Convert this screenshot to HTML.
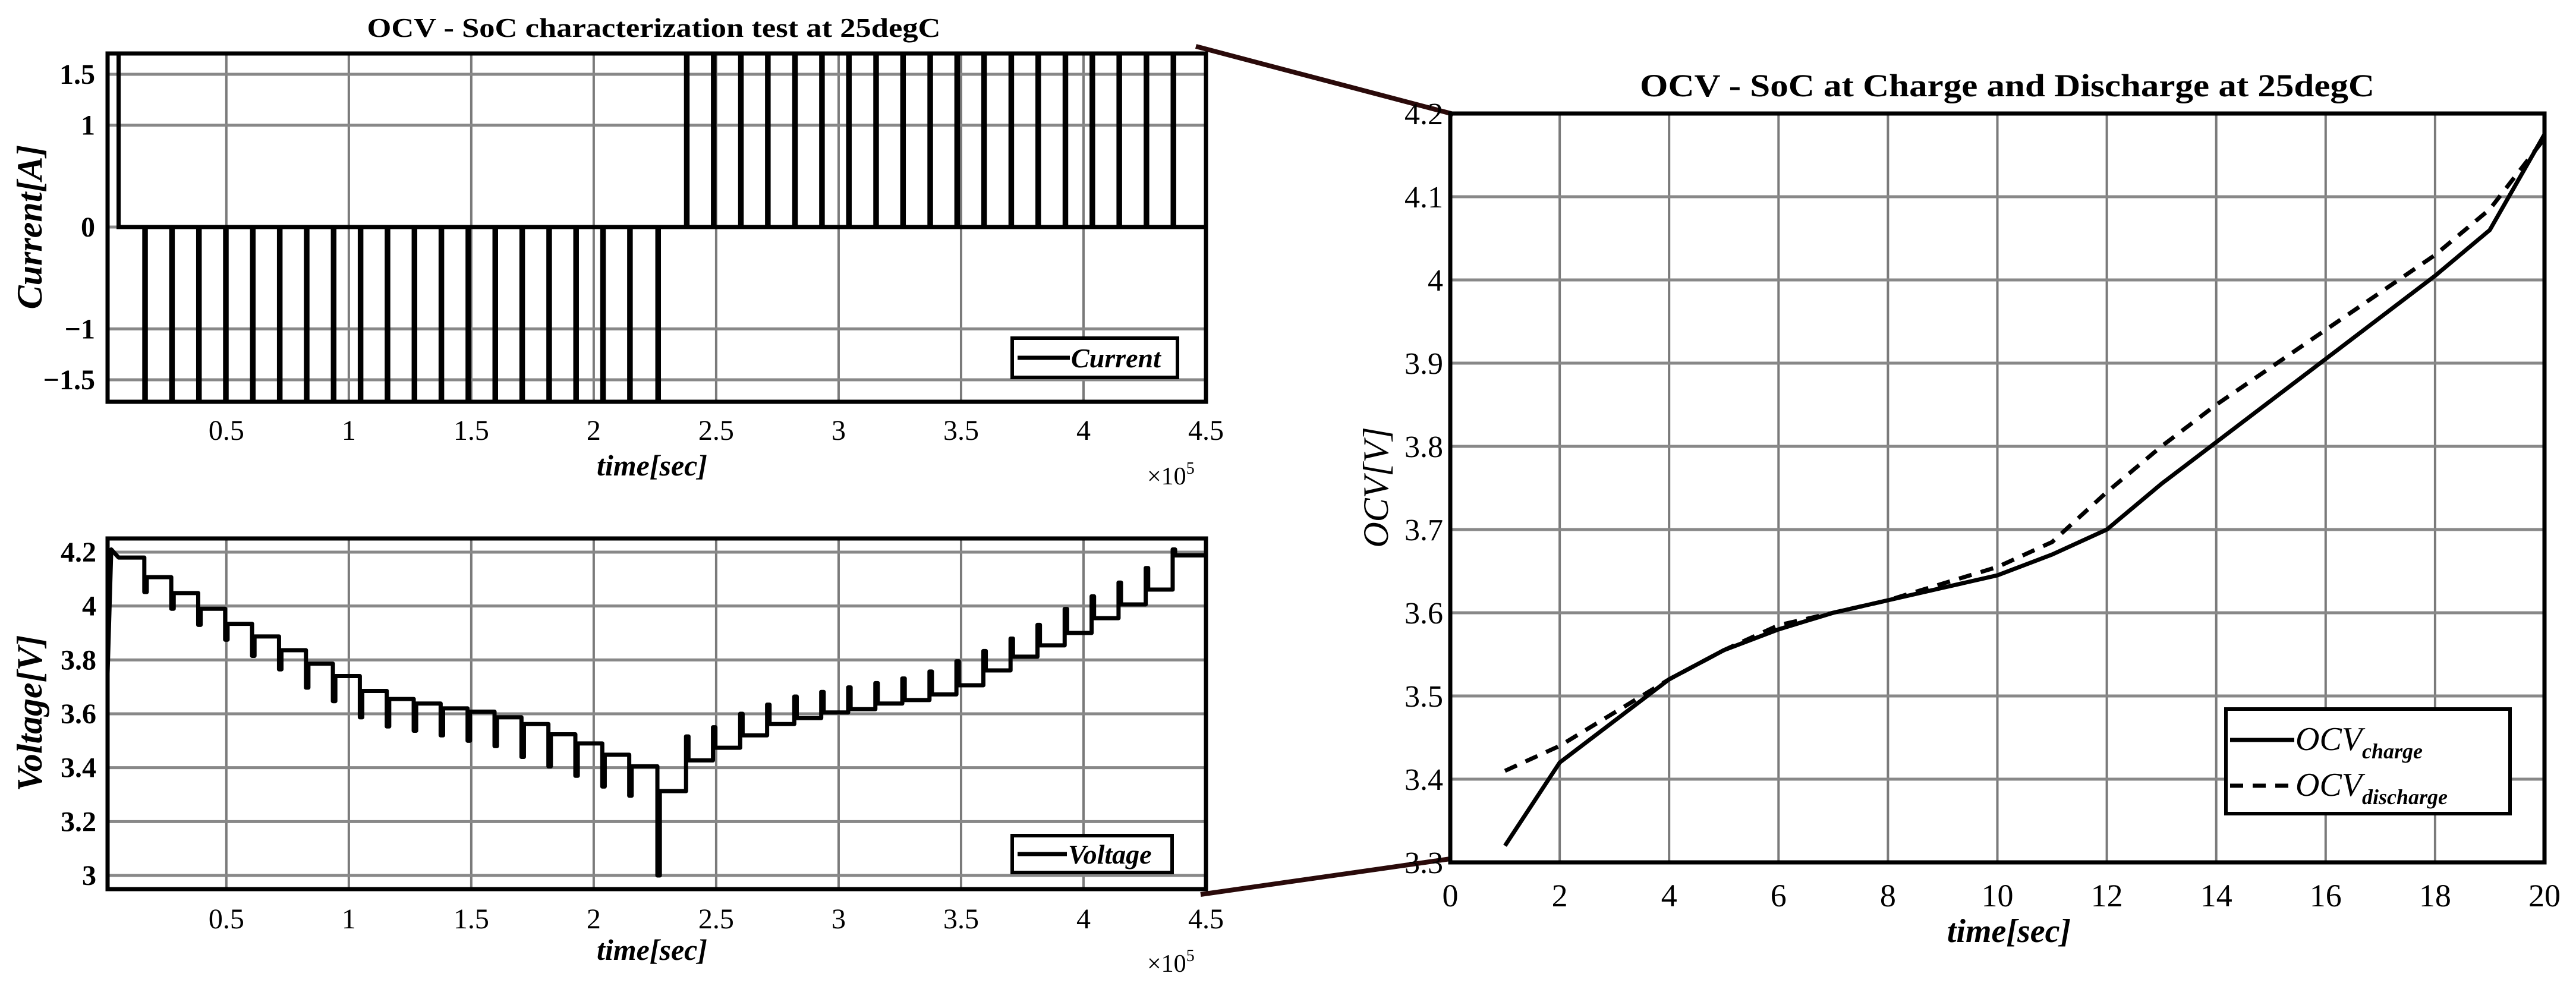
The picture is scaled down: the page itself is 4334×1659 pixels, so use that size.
<!DOCTYPE html>
<html><head><meta charset="utf-8"><style>
html,body{margin:0;padding:0;background:#fff;}
svg{display:block;font-family:"Liberation Serif",serif;}
</style></head><body>
<svg id="s" width="4334" height="1659" viewBox="0 0 4334 1659" xmlns="http://www.w3.org/2000/svg">
<text x="1100" y="62" font-size="46" font-weight="bold" text-anchor="middle" textLength="965" lengthAdjust="spacingAndGlyphs">OCV - SoC characterization test at 25degC</text>
<text x="3377" y="162" font-size="54" font-weight="bold" text-anchor="middle" textLength="1236" lengthAdjust="spacingAndGlyphs">OCV - SoC at Charge and Discharge at 25degC</text>
<line x1="2012" y1="78" x2="2445" y2="192" stroke="#2a0a0a" stroke-width="8"/>
<line x1="2020" y1="1505" x2="2440" y2="1445" stroke="#2a0a0a" stroke-width="8"/>
<g id="g1"></g>
<g id="g2"></g>
<g id="g3"></g>
</svg>
<script>
// ---- data ----
const timeTicks = [0.5,1,1.5,2,2.5,3,3.5,4,4.5];
const timeTickLabels = ["0.5","1","1.5","2","2.5","3","3.5","4","4.5"];
const currentTicks = [-1.5,-1,0,1,1.5];
const currentTickLabels = ["\u22121.5","\u22121","0","1","1.5"];
const dischargePulseTimes = [0.165,0.275,0.385,0.495,0.605,0.715,0.825,0.935,1.045,1.155,1.265,1.375,1.485,1.595,1.705,1.815,1.925,2.035,2.145,2.26];
const chargePulseTimes = [2.377,2.487,2.598,2.708,2.819,2.929,3.039,3.150,3.260,3.371,3.481,3.591,3.702,3.812,3.923,4.033,4.143,4.254,4.364];
const dischargeCurrent = -1.75;
const chargeCurrent = 1.75;
const voltageTicks = [3,3.2,3.4,3.6,3.8,4,4.2];
const voltageTickLabels = ["3","3.2","3.4","3.6","3.8","4","4.2"];
const dischargeLevels = [4.18,4.107,4.048,3.99,3.934,3.887,3.836,3.786,3.74,3.685,3.655,3.638,3.62,3.608,3.587,3.562,3.524,3.49,3.448,3.405,3.313];
const dischargeSpikes = [4.052,3.99,3.93,3.875,3.815,3.765,3.697,3.647,3.587,3.553,3.537,3.52,3.50,3.48,3.44,3.405,3.37,3.33,3.296,3.0];
const chargeLevels = [3.427,3.474,3.52,3.562,3.584,3.605,3.617,3.638,3.651,3.672,3.706,3.761,3.812,3.854,3.9,3.955,4.006,4.061,4.188];
const chargeSpikes = [3.516,3.55,3.6,3.634,3.664,3.681,3.698,3.714,3.731,3.757,3.795,3.833,3.879,3.93,3.989,4.036,4.087,4.141,4.21];
const ocvX = [1,2,3,4,5,6,7,8,9,10,11,12,13,14,15,16,17,18,19,20];
const ocvCharge = [3.32,3.42,3.47,3.52,3.555,3.58,3.60,3.615,3.63,3.645,3.67,3.70,3.755,3.805,3.855,3.905,3.955,4.005,4.06,4.175];
const ocvDischarge = [3.41,3.44,3.48,3.52,3.555,3.585,3.60,3.615,3.635,3.655,3.685,3.745,3.80,3.85,3.895,3.94,3.985,4.03,4.085,4.17];
const ocvXTicks = [0,2,4,6,8,10,12,14,16,18,20];
const ocvYTicks = [3.3,3.4,3.5,3.6,3.7,3.8,3.9,4,4.1,4.2];
const ocvYTickLabels = ["3.3","3.4","3.5","3.6","3.7","3.8","3.9","4","4.1","4.2"];

const NS="http://www.w3.org/2000/svg";
function mk(parent,tag,attrs,txt){const e=document.createElementNS(NS,tag);for(const k in attrs)e.setAttribute(k,attrs[k]);if(txt!==undefined)e.textContent=txt;parent.appendChild(e);return e;}
function lin(d0,d1,r0,r1){return v=>r0+(v-d0)/(d1-d0)*(r1-r0);}

// ---- chart 1: current ----
(function(){
const g=document.getElementById('g1');
const L=181,R=2029,T=90,B=676;
const x=lin(0.015,4.5,L,R), y=lin(0,1.5,382,125);
timeTicks.forEach((t,i)=>{
 const l=mk(g,'line',{x1:x(t),x2:x(t),y1:T,y2:B,stroke:'#7a7a7a','stroke-width':4});
 
 
 const tx=mk(g,'text',{x:x(t),y:740,'font-size':48,'text-anchor':'middle'},timeTickLabels[i]);
 
 
});
currentTicks.forEach((v,i)=>{
 const l=mk(g,'line',{x1:L,x2:R,y1:y(v),y2:y(v),stroke:'#888','stroke-width':5});
 
 
 const tx=mk(g,'text',{x:160,y:y(v)+16,'font-size':48,'font-weight':'bold','text-anchor':'end'},currentTickLabels[i]);
 
 
});
let d=`M${x(0.015)},${y(0)} L${x(0.015)},${y(chargeCurrent)} L${x(0.06)},${y(chargeCurrent)} L${x(0.06)},${y(0)}`;
const w=0.006;
dischargePulseTimes.forEach(t=>{d+=` L${x(t)},${y(0)} L${x(t)},${y(dischargeCurrent)} L${x(t+w)},${y(dischargeCurrent)} L${x(t+w)},${y(0)}`;});
chargePulseTimes.forEach(t=>{d+=` L${x(t)},${y(0)} L${x(t)},${y(chargeCurrent)} L${x(t+w)},${y(chargeCurrent)} L${x(t+w)},${y(0)}`;});
d+=` L${R},${y(0)}`;
const cp=mk(g,'clipPath',{id:'c1'});mk(cp,'rect',{x:L,y:T,width:R-L,height:B-T});
const p=mk(g,'path',{d:d,fill:'none',stroke:'#000','stroke-width':7,'clip-path':'url(#c1)'});


const f=mk(g,'rect',{x:L,y:T,width:R-L,height:B-T,fill:'none',stroke:'#000','stroke-width':7});


const lg=mk(g,'g',{});


mk(lg,'rect',{x:1703,y:569,width:278,height:66,fill:'#fff',stroke:'#000','stroke-width':6});
mk(lg,'line',{x1:1712,x2:1800,y1:602,y2:602,stroke:'#000','stroke-width':7});
mk(lg,'text',{x:1802,y:618,'font-size':46,'font-style':'italic','font-weight':'bold'},'Current');
const xl=mk(g,'text',{x:1097,y:800,'font-size':50,'font-style':'italic','font-weight':'bold','text-anchor':'middle'},'time[sec]');


const ex=mk(g,'text',{x:1930,y:815,'font-size':42},'×10');


mk(ex,'tspan',{dy:-18,'font-size':28},'5');
const yl=mk(g,'text',{x:0,y:0,'font-size':60,'font-style':'italic','font-weight':'bold','text-anchor':'middle',transform:'translate(70,382) rotate(-90)'},'Current[A]');


})();

// ---- chart 2: voltage ----
(function(){
const g=document.getElementById('g2');
const L=181,R=2029,T=906,B=1496;
const x=lin(0.015,4.5,L,R), y=lin(3,4.2,1473,929);
timeTicks.forEach((t,i)=>{
 const l=mk(g,'line',{x1:x(t),x2:x(t),y1:T,y2:B,stroke:'#7a7a7a','stroke-width':4});
 
 
 const tx=mk(g,'text',{x:x(t),y:1562,'font-size':48,'text-anchor':'middle'},timeTickLabels[i]);
 
 
});
voltageTicks.forEach((v,i)=>{
 const l=mk(g,'line',{x1:L,x2:R,y1:y(v),y2:y(v),stroke:'#888','stroke-width':5});
 
 
 const tx=mk(g,'text',{x:162,y:y(v)+16,'font-size':48,'font-weight':'bold','text-anchor':'end'},voltageTickLabels[i]);
 
 
});
let d=`M${x(0.015)},${y(3.75)} L${x(0.03)},${y(4.21)} L${x(0.06)},${y(dischargeLevels[0])}`;
dischargePulseTimes.forEach((t,i)=>{d+=` L${x(t)},${y(dischargeLevels[i])} L${x(t)},${y(dischargeSpikes[i])} L${x(t+0.01)},${y(dischargeSpikes[i])} L${x(t+0.01)},${y(dischargeLevels[i+1])}`;});
chargePulseTimes.forEach((t,i)=>{const prev=i===0?dischargeLevels[dischargeLevels.length-1]:chargeLevels[i-1];d+=` L${x(t)},${y(prev)} L${x(t)},${y(chargeSpikes[i])} L${x(t+0.01)},${y(chargeSpikes[i])} L${x(t+0.01)},${y(chargeLevels[i])}`;});
d+=` L${R},${y(chargeLevels[chargeLevels.length-1])}`;
const p=mk(g,'path',{d:d,fill:'none',stroke:'#000','stroke-width':7,'stroke-linejoin':'round'});


const f=mk(g,'rect',{x:L,y:T,width:R-L,height:B-T,fill:'none',stroke:'#000','stroke-width':7});


const lg=mk(g,'g',{});


mk(lg,'rect',{x:1703,y:1406,width:269,height:62,fill:'#fff',stroke:'#000','stroke-width':6});
mk(lg,'line',{x1:1712,x2:1795,y1:1437,y2:1437,stroke:'#000','stroke-width':7});
mk(lg,'text',{x:1797,y:1453,'font-size':46,'font-style':'italic','font-weight':'bold'},'Voltage');
const xl=mk(g,'text',{x:1097,y:1615,'font-size':50,'font-style':'italic','font-weight':'bold','text-anchor':'middle'},'time[sec]');


const ex=mk(g,'text',{x:1930,y:1635,'font-size':42},'×10');


mk(ex,'tspan',{dy:-18,'font-size':28},'5');
const yl=mk(g,'text',{x:0,y:0,'font-size':60,'font-style':'italic','font-weight':'bold','text-anchor':'middle',transform:'translate(70,1200) rotate(-90)'},'Voltage[V]');


})();

// ---- chart 3: OCV ----
(function(){
const g=document.getElementById('g3');
const L=2440,R=4281,T=191,B=1451;
const x=lin(0,20,L,R), y=lin(3.3,4.2,B,T);
ocvXTicks.forEach(t=>{
 const l=mk(g,'line',{x1:x(t),x2:x(t),y1:T,y2:B,stroke:'#7a7a7a','stroke-width':4});
 
 
 const tx=mk(g,'text',{x:x(t),y:1525,'font-size':54,'text-anchor':'middle'},String(t));
 
 
});
ocvYTicks.forEach((v,i)=>{
 const l=mk(g,'line',{x1:L,x2:R,y1:y(v),y2:y(v),stroke:'#888','stroke-width':5});
 
 
 const tx=mk(g,'text',{x:2428,y:y(v)+18,'font-size':52,'text-anchor':'end'},ocvYTickLabels[i]);
 
 
});
const pts=a=>a.map((v,i)=>x(ocvX[i])+','+y(v)).join(' ');
const p1=mk(g,'polyline',{points:pts(ocvCharge),fill:'none',stroke:'#000','stroke-width':7});


const p2=mk(g,'polyline',{points:pts(ocvDischarge),fill:'none',stroke:'#000','stroke-width':7,'stroke-dasharray':'22 16'});


const f=mk(g,'rect',{x:L,y:T,width:R-L,height:B-T,fill:'none',stroke:'#000','stroke-width':7});


const lg=mk(g,'g',{});


mk(lg,'rect',{x:3745,y:1193,width:478,height:176,fill:'#fff',stroke:'#000','stroke-width':6});
mk(lg,'line',{x1:3752,x2:3860,y1:1245,y2:1245,stroke:'#000','stroke-width':7});
const t1=mk(lg,'text',{x:3862,y:1262,'font-size':56,'font-style':'italic'},'OCV');
mk(t1,'tspan',{dy:14,'font-size':36,'font-weight':'bold'},'charge');
mk(lg,'line',{x1:3752,x2:3860,y1:1322,y2:1322,stroke:'#000','stroke-width':7,'stroke-dasharray':'22 16'});
const t2=mk(lg,'text',{x:3862,y:1339,'font-size':56,'font-style':'italic'},'OCV');
mk(t2,'tspan',{dy:14,'font-size':36,'font-weight':'bold'},'discharge');
const xl=mk(g,'text',{x:3380,y:1585,'font-size':56,'font-style':'italic','font-weight':'bold','text-anchor':'middle'},'time[sec]');


const yl=mk(g,'text',{x:0,y:0,'font-size':60,'font-style':'italic','text-anchor':'middle',transform:'translate(2335,820) rotate(-90)'},'OCV[V]');


})();
</script>
</body></html>
